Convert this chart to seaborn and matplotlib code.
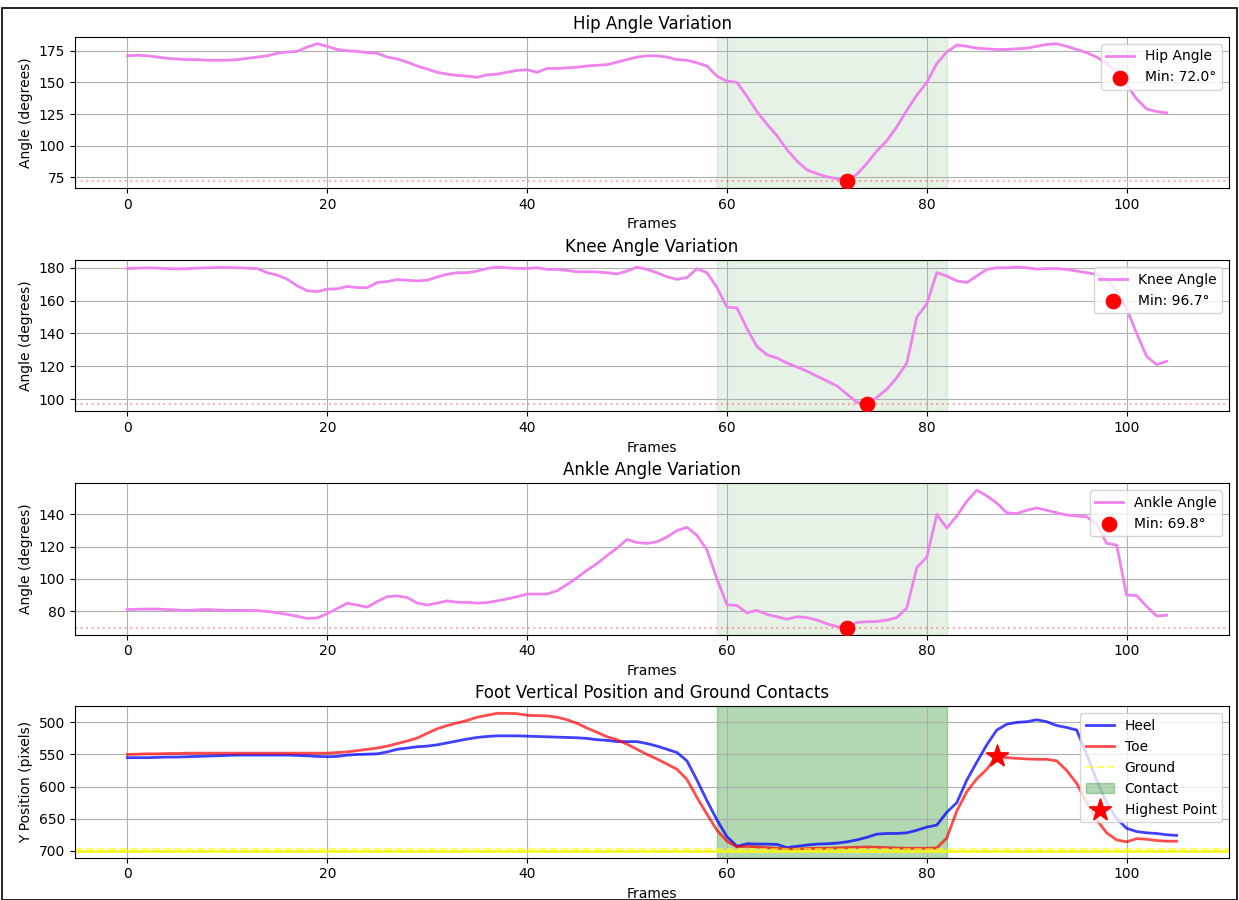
import numpy as np
import pandas as pd
import matplotlib
matplotlib.use("Agg")
import matplotlib.pyplot as plt
from matplotlib.ticker import MultipleLocator
from matplotlib.patches import Rectangle
import seaborn as sns

# ---------------- data ----------------
hip_angle = [171, 171.5, 171, 170, 169, 168.5, 168, 168, 167.5, 167.5,
             167.5, 168, 169, 170, 171, 173, 174, 174.5, 178, 180.5,
             178.5, 176, 175, 174.5, 173.5, 173, 170, 168.5, 166, 163,
             160.5, 158, 156.5, 155.5, 155, 154, 156, 156.5, 158, 159.5,
             160, 158, 161, 161, 161.5, 162, 163, 163.5, 164, 166,
             168, 170, 171, 171, 170, 168, 167.5, 165.5, 163, 155,
             151, 150, 139, 127, 117, 108, 97, 88, 81, 78,
             75.5, 74, 72.0, 77.5, 86, 96, 104, 115, 128, 140,
             150, 165, 174, 179.5, 178.5, 177, 176.5, 176, 176, 176.5,
             177, 178.5, 180, 180.5, 178.5, 176, 173.5, 170, 165, 158,
             148, 137, 129, 127, 126]

knee_angle = [179.5, 179.8, 180, 179.8, 179.5, 179.3, 179.5, 179.8, 180, 180.2,
              180.2, 180, 179.8, 179.5, 177, 175.5, 173, 169, 166, 165.5,
              167, 167.2, 168.6, 168, 167.8, 171, 171.6, 172.8, 172.4, 172,
              172.4, 174.4, 176, 177, 177, 178, 179.6, 180.4, 180, 179.6,
              179.6, 180, 179, 179, 178.4, 177.6, 177.6, 177.4, 177, 176.3,
              178, 180.4, 179, 177, 174.5, 173, 174, 179.5, 177, 168,
              156, 155.5, 143, 132, 127, 125, 122, 119.5, 117, 114,
              111, 108, 103, 98, 96.7, 101, 106, 113, 122, 150,
              158, 177, 175, 172, 171, 175, 179, 180, 180, 180.5,
              180, 179.2, 179.5, 179.5, 179, 178, 177, 176, 173, 166,
              155, 140, 126, 121, 123]

ankle_angle = [81, 81.2, 81.3, 81.3, 81, 80.7, 80.4, 80.8, 81, 80.7,
               80.5, 80.5, 80.4, 80.4, 79.8, 79, 78, 76.8, 75.5, 75.8,
               78.5, 81.7, 84.9, 83.8, 82.5, 86, 89, 89.5, 88.5, 85,
               83.8, 85, 86.4, 85.5, 85.5, 85, 85.3, 86.4, 87.6, 89,
               90.6, 90.6, 90.6, 92.7, 96.5, 100.8, 105.4, 109.5, 114.5, 119,
               124.5, 122.5, 122, 123, 126, 130, 132, 127, 118, 100,
               84, 83.5, 79, 80.5, 78, 76.5, 75, 76.5, 76, 74.5,
               72.2, 70.5, 69.8, 73, 73.5, 73.6, 74.5, 76, 82, 107,
               113.5, 140, 131.5, 139, 148, 155, 151.5, 147, 141, 140.5,
               142.5, 144, 142.5, 141, 139.6, 139, 138.5, 134, 122, 121,
               90, 89.7, 83, 77, 77.5]

heel_y = [555, 555, 555, 554.5, 554, 554, 553.5, 553, 552.5, 552,
          551.5, 551, 551, 551, 551, 551, 551, 551.5, 552, 553,
          553.5, 553, 551, 550, 549.5, 549, 546, 542, 540, 538,
          537, 535, 532, 529, 526, 523.5, 522, 521, 521, 521,
          521.5, 522, 522.5, 523, 523.5, 524, 525, 527, 528, 530,
          530, 530, 533, 537, 542, 547, 560, 590, 622, 652,
          678, 693, 689, 689.5, 689.5, 690, 695, 693, 691, 689.5,
          689, 688, 686, 683, 679, 674, 673, 673, 672, 668,
          663, 660, 640, 625, 590, 562, 535, 512, 503, 500,
          499, 496, 499, 505, 508, 512, 550, 590, 625, 650,
          665, 670, 672, 673, 675, 676]

toe_y = [550, 549.5, 549, 549, 548.5, 548.5, 548, 548, 548, 548,
         548, 548, 548, 548, 548, 548, 548, 548, 548, 548,
         548, 547, 546, 544, 542, 540, 537, 533, 529, 524.5,
         517, 510, 505, 501, 497, 492, 489, 486, 486, 486.5,
         489, 489.5, 490, 492, 496, 501.5, 509, 515.5, 522.5, 527,
         534, 542, 550, 557, 565, 573, 589, 617, 643, 668,
         685, 694, 693, 694, 695, 696, 697, 697, 696.5, 696,
         696, 695.5, 695, 694.5, 694, 694.5, 695, 695.5, 696, 696,
         696, 695.5, 680, 638, 608, 588, 573, 553, 555, 556,
         557, 557.5, 557.5, 560, 575, 595, 625, 652, 672, 683,
         686, 681, 682, 684, 685, 685]

contact_start = 59
contact_end = 82
ground_level = 700
highest_frame = 87

angle_series = [("Hip", hip_angle), ("Knee", knee_angle), ("Ankle", ankle_angle)]
angle_ticks = [25, 20, 20]

# ---------------- figure ----------------
plt.rcParams['font.family'] = ['DejaVu Sans']
fig = plt.figure(figsize=(12.39, 9), dpi=100)
axes = fig.subplots(4, 1)
fig.subplots_adjust(left=0.0605, right=0.992, top=0.959, bottom=0.047, hspace=0.476)

for ax, (name, vals), step in zip(axes[:3], angle_series, angle_ticks):
    vals = np.asarray(vals, dtype=float)
    frames = np.arange(len(vals))
    df = pd.DataFrame({"Frame": frames, "Angle": vals})
    sns.lineplot(data=df, x="Frame", y="Angle", ax=ax, color="violet",
                 linewidth=2, label=f"{name} Angle")
    i = int(np.argmin(vals))
    ax.axhline(vals[i], color="red", linestyle=":", alpha=0.3)
    sns.scatterplot(x=[frames[i]], y=[vals[i]], ax=ax, color="red", s=110,
                    edgecolor="red", zorder=5, label=f"Min: {vals[i]:.1f}°")
    ax.axvspan(contact_start, contact_end, color="green", alpha=0.1)
    ax.set_title(f"{name} Angle Variation", fontsize=12)
    ax.set_xlabel("Frames")
    ax.set_ylabel("Angle (degrees)")
    ax.yaxis.set_major_locator(MultipleLocator(step))
    ax.set_xlim(-5.25, 110.25)
    ax.grid(True)
    ax.legend(loc="upper right")

# foot plot
ax = axes[3]
fframes = np.arange(len(heel_y))
fdf = pd.DataFrame({"Frame": fframes, "Heel": heel_y, "Toe": toe_y})
sns.lineplot(data=fdf, x="Frame", y="Heel", ax=ax, color="blue", linewidth=2,
             alpha=0.75, label="Heel")
sns.lineplot(data=fdf, x="Frame", y="Toe", ax=ax, color="red", linewidth=2,
             alpha=0.7, label="Toe")
ax.axhline(ground_level, color="yellow", linewidth=2, alpha=0.8)
ax.axhline(ground_level - 3, color="yellow", linestyle="--", linewidth=1.5,
           alpha=0.6, label="Ground")
ax.axvspan(contact_start, contact_end, color="green", alpha=0.3, label="Contact")
sns.scatterplot(x=[highest_frame], y=[toe_y[highest_frame]], ax=ax, color="red",
                marker="*", s=260, edgecolor="red", zorder=5, label="Highest Point")
ax.invert_yaxis()
ax.set_title("Foot Vertical Position and Ground Contacts", fontsize=12)
ax.set_xlabel("Frames")
ax.set_ylabel("Y Position (pixels)")
ax.yaxis.set_major_locator(MultipleLocator(50))
ax.set_xlim(-5.25, 110.25)
ax.grid(True)
ax.legend(loc="upper right")

fig.add_artist(Rectangle((0.002, 0.0), 0.996, 0.991, transform=fig.transFigure,
                         fill=False, edgecolor="black", linewidth=1.2))

fig.savefig("out.png", dpi=100)
